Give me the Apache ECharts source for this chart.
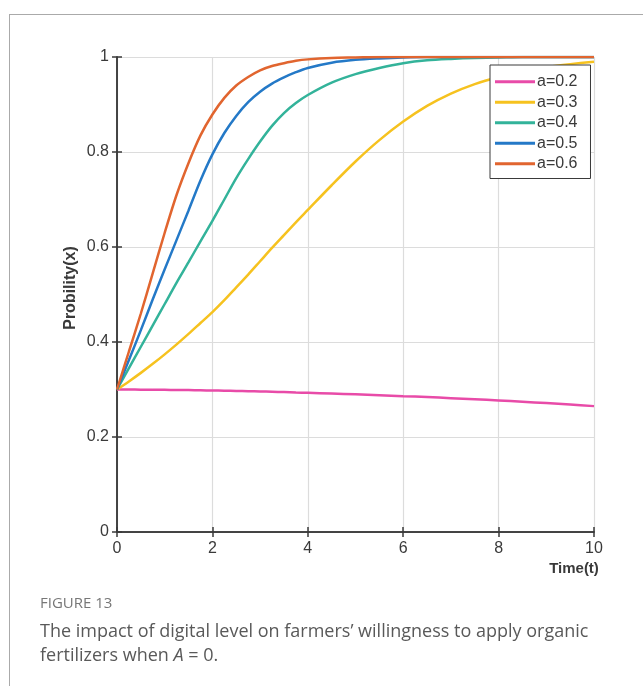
<!DOCTYPE html>
<html>
<head>
<meta charset="utf-8">
<script src="https://cdn.jsdelivr.net/npm/echarts@6/dist/echarts.min.js"></script>
<style>
  html, body { margin: 0; padding: 0; background: #fff; }
  #chart { width: 643px; height: 686px; }
</style>
</head>
<body>
<div id="chart"></div>
<script>
// Time values (x axis)
var times = [0, 0.25, 0.5, 0.75, 1, 1.25, 1.5, 1.75, 2, 2.25, 2.5, 2.75, 3, 3.25, 3.5, 3.75, 4, 4.5, 5, 5.5, 6, 6.5, 7, 7.5, 8, 8.5, 9, 9.5, 10];
// Series values
var a02 = [0.300, 0.2999, 0.2997, 0.2995, 0.2993, 0.2990, 0.2987, 0.2983, 0.2979, 0.2975, 0.2970, 0.2965, 0.2959, 0.2952, 0.2945, 0.2937, 0.2930, 0.2915, 0.2898, 0.2880, 0.2860, 0.2840, 0.2818, 0.2795, 0.2770, 0.2743, 0.2714, 0.2683, 0.2650];
var a03 = [0.300, 0.317, 0.335, 0.354, 0.374, 0.395, 0.417, 0.440, 0.463, 0.488, 0.515, 0.542, 0.570, 0.598, 0.625, 0.652, 0.678, 0.730, 0.780, 0.825, 0.864, 0.897, 0.923, 0.943, 0.958, 0.970, 0.979, 0.985, 0.990];
var a04 = [0.300, 0.345, 0.390, 0.435, 0.480, 0.525, 0.568, 0.612, 0.655, 0.700, 0.745, 0.785, 0.822, 0.855, 0.882, 0.903, 0.920, 0.946, 0.964, 0.977, 0.987, 0.993, 0.996, 0.998, 0.999, 1.0, 1.0, 1.0, 1.0];
var a05 = [0.300, 0.362, 0.425, 0.490, 0.553, 0.615, 0.677, 0.740, 0.795, 0.840, 0.876, 0.905, 0.927, 0.944, 0.957, 0.968, 0.977, 0.988, 0.994, 0.997, 0.999, 1.0, 1.0, 1.0, 1.0, 1.0, 1.0, 1.0, 1.0];
var a06 = [0.300, 0.380, 0.460, 0.545, 0.630, 0.710, 0.777, 0.835, 0.879, 0.914, 0.940, 0.958, 0.972, 0.981, 0.987, 0.992, 0.995, 0.998, 0.999, 1.0, 1.0, 1.0, 1.0, 1.0, 1.0, 1.0, 1.0, 1.0, 1.0];
var seriesNames = ['a=0.2', 'a=0.3', 'a=0.4', 'a=0.5', 'a=0.6'];
var seriesValues = [a02, a03, a04, a05, a06];
var seriesColors = ['#E84BA8', '#F6C21F', '#33B39A', '#2479C7', '#E1652F'];
var xTicks = [0, 2, 4, 6, 8, 10];
var yTicks = [0, 0.2, 0.4, 0.6, 0.8, 1];

var chart = echarts.init(document.getElementById('chart'), null, { renderer: 'canvas' });

var axisLineStyle = { color: '#3a3a3a', width: 1.5 };
var series = seriesNames.map(function (name, i) {
  return {
    name: name,
    type: 'line',
    xAxisIndex: 0,
    yAxisIndex: 0,
    smooth: 0.3,
    symbol: 'none',
    lineStyle: { color: seriesColors[i], width: 2.5 },
    itemStyle: { color: seriesColors[i] },
    data: times.map(function (t, k) { return [t, seriesValues[i][k]]; })
  };
});

var labelFont = { fontFamily: 'Liberation Sans', fontSize: 16, color: '#3a3a3a' };

var option = {
  animation: false,
  backgroundColor: '#ffffff',
  grid: { left: 117, top: 57, right: 49, bottom: 154, containLabel: false },
  xAxis: [{
    type: 'value', min: xTicks[0], max: xTicks[xTicks.length - 1], interval: 2,
    position: 'bottom',
    axisLine: { show: true, lineStyle: axisLineStyle },
    axisTick: { show: true, inside: true, length: 5, lineStyle: axisLineStyle },
    axisLabel: Object.assign({ margin: 9 }, labelFont),
    splitLine: { show: true, lineStyle: { color: '#dcdcdc', width: 1.2 } }
  }, {
    type: 'value', min: xTicks[0], max: xTicks[xTicks.length - 1], interval: 2,
    position: 'top',
    axisLine: { show: true, lineStyle: axisLineStyle },
    axisTick: { show: true, inside: true, length: 5, lineStyle: axisLineStyle },
    axisLabel: { show: false },
    splitLine: { show: false }
  }],
  yAxis: [{
    type: 'value', min: yTicks[0], max: yTicks[yTicks.length - 1], interval: 0.2,
    position: 'left',
    axisLine: { show: true, lineStyle: axisLineStyle },
    axisTick: { show: true, inside: true, length: 5, lineStyle: axisLineStyle },
    axisLabel: Object.assign({ margin: 8 }, labelFont),
    splitLine: { show: true, lineStyle: { color: '#dcdcdc', width: 1.2 } }
  }, {
    type: 'value', min: yTicks[0], max: yTicks[yTicks.length - 1], interval: 0.2,
    position: 'right',
    axisLine: { show: true, lineStyle: axisLineStyle },
    axisTick: { show: true, inside: true, length: 5, lineStyle: axisLineStyle },
    axisLabel: { show: false },
    splitLine: { show: false }
  }],
  legend: {
    orient: 'vertical',
    left: 490, top: 65,
    data: seriesNames,
    icon: 'rect',
    itemWidth: 40, itemHeight: 3,
    itemGap: 3,
    padding: [8, 13, 6, 5],
    backgroundColor: '#ffffff',
    borderColor: '#3a3a3a', borderWidth: 1,
    textStyle: { fontFamily: 'Liberation Sans', fontSize: 16, lineHeight: 17.5, color: '#3a3a3a', padding: [0, 0, 0, -3] },
    selectedMode: false
  },
  series: series,
  graphic: [
    { type: 'line', shape: { x1: 9, y1: 14.5, x2: 643, y2: 14.5 }, style: { stroke: '#aaaaaa', lineWidth: 1 } },
    { type: 'line', shape: { x1: 9.5, y1: 14, x2: 9.5, y2: 686 }, style: { stroke: '#aaaaaa', lineWidth: 1 } },
    { type: 'text', x: 71, y: 288, rotation: Math.PI / 2,
      style: { text: 'Probility(x)', font: 'bold 16px "Liberation Sans"', fill: '#3a3a3a', align: 'center', verticalAlign: 'middle' } },
    { type: 'text', x: 574, y: 569,
      style: { text: 'Time(t)', font: 'bold 15px "Liberation Sans"', fill: '#3a3a3a', align: 'center', verticalAlign: 'middle' } },
    { type: 'text', x: 40, y: 604,
      style: { text: 'FIGURE 13', font: '15px "Open Sans"', fill: '#777', align: 'left', verticalAlign: 'middle' } },
    { type: 'text', x: 40, y: 632,
      style: { text: 'The impact of digital level on farmers\u2019 willingness to apply organic', font: '18px "Open Sans"', fill: '#595959', align: 'left', verticalAlign: 'middle' } },
    { type: 'text', x: 40, y: 656,
      style: { text: 'fertilizers when {i|A} = 0.', font: '18px "Open Sans"', fill: '#595959', align: 'left', verticalAlign: 'middle',
        rich: { i: { fontStyle: 'italic', fontFamily: 'Open Sans', fontSize: 18, fill: '#595959' } } } }
  ]
};
chart.setOption(option);
</script>
</body>
</html>
